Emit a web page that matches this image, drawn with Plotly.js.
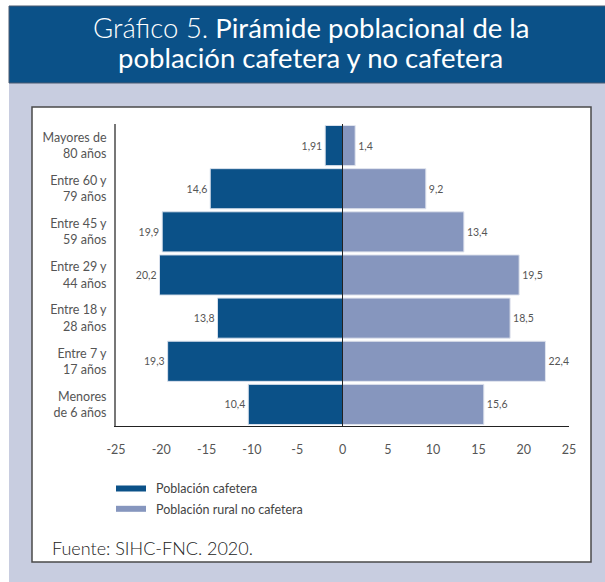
<!DOCTYPE html>
<html>
<head>
<meta charset="utf-8">
<script src="https://cdn.plot.ly/plotly-3.0.1.min.js"></script>
<style>
html,body{margin:0;padding:0;background:#fff;}
#chart{width:605px;height:582px;}
</style>
</head>
<body>
<div id="chart"></div>
<script>
// ---- data ----
const categories = [
  "Mayores de<br>80 años",
  "Entre 60 y<br>79 años",
  "Entre 45 y<br>59 años",
  "Entre 29 y<br>44 años",
  "Entre 18 y<br>28 años",
  "Entre 7 y<br>17 años",
  "Menores<br>de 6 años"
];
const cafetera = [1.91, 14.6, 19.9, 20.2, 13.8, 19.3, 10.4];
const noCafetera = [1.4, 9.2, 13.4, 19.5, 18.5, 22.4, 15.6];
const seriesNames = ["Población cafetera", "Población rural no cafetera"];
const xTicks = [-25, -20, -15, -10, -5, 0, 5, 10, 15, 20, 25];
const titleLines = [
  '<span style="font-weight:300">Gráfico 5.</span> Pirámide poblacional de la',
  'población cafetera y no cafetera'
];
const sourceText = "Fuente: SIHC-FNC. 2020.";

const darkBlue = "#0b5188";
const lightBlue = "#8696be";
const lavender = "#c8cde0";
const FONT = "Lato, sans-serif";
const fmt = v => String(v).replace(".", ",");

// plot area in pixels (for converting frame decorations to paper coords)
const W = 605, H = 582, L = 116, R = 36, T = 124, B = 156;
const pw = W - L - R, ph = H - T - B;
const px = x => (x - L) / pw;
const py = y => (H - B - y) / ph;

const traces = [
  {
    type: "bar", orientation: "h", name: seriesNames[0],
    y: categories, x: cafetera.map(v => -v),
    text: cafetera.map(fmt), textposition: "outside",
    textfont: {size: 10.5, color: "#555", family: FONT},
    marker: {color: darkBlue, line: {color: "#d8e0ec", width: 1}},
    cliponaxis: false, hoverinfo: "skip", showlegend: false
  },
  {
    type: "bar", orientation: "h", name: seriesNames[1],
    y: categories, x: noCafetera,
    text: noCafetera.map(fmt), textposition: "outside",
    textfont: {size: 10.5, color: "#555", family: FONT},
    marker: {color: lightBlue, line: {color: "#e0e4ee", width: 1}},
    cliponaxis: false, hoverinfo: "skip", showlegend: false
  }
];

const shapes = [
  // lavender frame
  {type: "rect", xref: "paper", yref: "paper", layer: "below",
   x0: px(9), x1: px(606), y0: py(83), y1: py(583),
   fillcolor: lavender, line: {width: 0}},
  // title band
  {type: "rect", xref: "paper", yref: "paper", layer: "below",
   x0: px(9), x1: px(606), y0: py(83), y1: py(6),
   fillcolor: darkBlue, line: {color: "#4a5a70", width: 1}},
  // white box
  {type: "rect", xref: "paper", yref: "paper", layer: "below",
   x0: px(32), x1: px(591), y0: py(562), y1: py(107),
   fillcolor: "#ffffff", line: {color: "#4a4a4a", width: 1.5}},
  // zero line
  {type: "line", xref: "x", yref: "paper", layer: "above",
   x0: 0, x1: 0, y0: 0, y1: 1, line: {color: "#222", width: 1}},
  // legend swatches
  {type: "rect", xref: "paper", yref: "paper", layer: "above",
   x0: px(116), x1: px(146), y0: py(491.5), y1: py(485.5),
   fillcolor: darkBlue, line: {width: 0}},
  {type: "rect", xref: "paper", yref: "paper", layer: "above",
   x0: px(116), x1: px(146), y0: py(511.8), y1: py(505.8),
   fillcolor: lightBlue, line: {width: 0}}
];

const annotations = [
  {xref: "paper", yref: "paper", x: px(311), y: py(28), xanchor: "center", yanchor: "middle",
   text: titleLines[0], showarrow: false, font: {size: 27.5, color: "#ffffff", family: FONT}},
  {xref: "paper", yref: "paper", x: px(310), y: py(57), xanchor: "center", yanchor: "middle",
   text: titleLines[1], showarrow: false, font: {size: 27.5, color: "#ffffff", family: FONT}},
  {xref: "paper", yref: "paper", x: px(154), y: py(488.5), xanchor: "left", yanchor: "middle",
   text: seriesNames[0], showarrow: false, font: {size: 12.5, color: "#444", family: FONT}},
  {xref: "paper", yref: "paper", x: px(154), y: py(509), xanchor: "left", yanchor: "middle",
   text: seriesNames[1], showarrow: false, font: {size: 12.5, color: "#444", family: FONT}},
  {xref: "paper", yref: "paper", x: px(50), y: py(547.5), xanchor: "left", yanchor: "middle",
   text: '<span style="font-weight:300">' + sourceText + '</span>', showarrow: false,
   font: {size: 18, color: "#222", family: FONT}}
];

const layout = {
  width: W, height: H,
  margin: {l: L, r: R, t: T, b: B, pad: 0},
  paper_bgcolor: "#ffffff",
  plot_bgcolor: "rgba(0,0,0,0)",
  font: {family: FONT, color: "#444"},
  barmode: "overlay",
  bargap: 0.07,
  xaxis: {
    range: [-25, 25], tickvals: xTicks, ticktext: xTicks.map(String),
    showgrid: false, zeroline: false, showline: true, linecolor: "#222", linewidth: 1,
    ticks: "", tickfont: {size: 12.5, color: "#555"}, ticklabelstandoff: 12,
    fixedrange: true
  },
  yaxis: {
    categoryorder: "array", categoryarray: categories.slice().reverse(),
    showgrid: false, zeroline: false, showline: true, linecolor: "#777", linewidth: 2,
    ticks: "", tickfont: {size: 12.5, color: "#555"}, ticklabelstandoff: 5,
    fixedrange: true
  },
  shapes: shapes,
  annotations: annotations,
  showlegend: false
};

Plotly.newPlot("chart", traces, layout, {displayModeBar: false, staticPlot: true});
</script>
</body>
</html>
